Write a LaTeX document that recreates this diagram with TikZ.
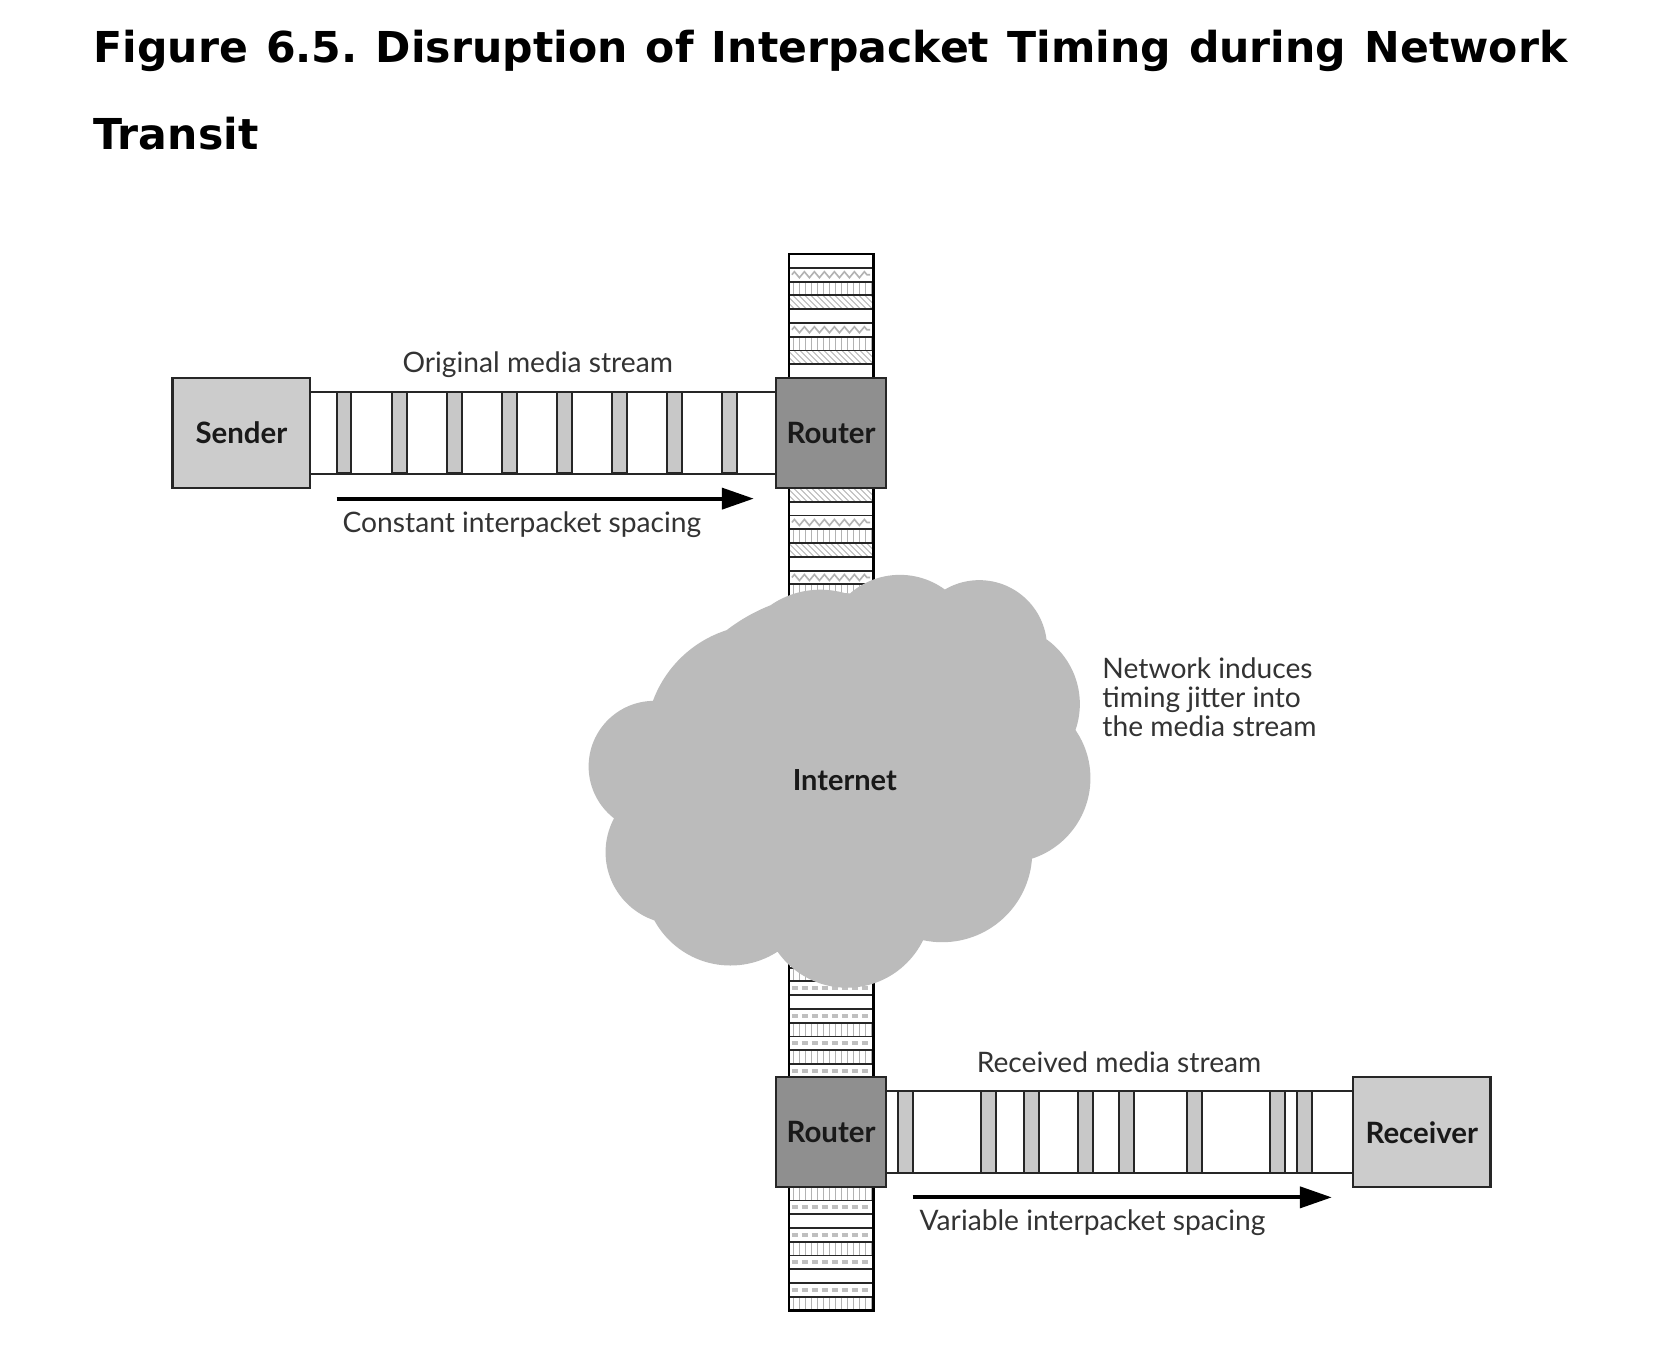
\documentclass[tikz,border=0pt]{standalone}
\usepackage{fontspec}
\newfontfamily\labelfont{Lato}
\newfontfamily\titlefont{DejaVu Sans}
\usetikzlibrary{arrows.meta,patterns,decorations.pathmorphing}
\frenchspacing

\definecolor{endgray}{HTML}{CCCCCC}
\definecolor{routergray}{HTML}{8F8F8F}
\definecolor{cloudgray}{HTML}{BBBBBB}
\definecolor{pktgray}{HTML}{C8C8C8}
\definecolor{txtgray}{HTML}{333333}

\tikzset{
  box/.style={draw=black!85, line width=1.2pt, text=black!90, minimum height=55pt,
    font=\labelfont\bfseries\fontsize{14.7}{16}\selectfont},
  endbox/.style={box, fill=endgray, minimum width=68.8pt},
  routerbox/.style={box, fill=routergray, minimum width=55pt},
  lbl/.style={font=\labelfont\fontsize{14.1}{14.6}\selectfont, text=txtgray, inner sep=0pt},
  streamline/.style={line width=1pt, draw=black!85},
  packet/.style={fill=pktgray, draw=black!85, line width=1pt},
  flow/.style={line width=2pt, -{Triangle[length=16pt,width=10.5pt]}},
  stackcell/.style={draw=black!85, line width=0.9pt},
  cellw/.style={fill=white},
  cellz/.style={fill=white},
  cellh/.style={fill=white},
  cellv/.style={pattern=vertical lines, pattern color=gray!60},
  celld/.style={pattern=north west lines, pattern color=gray!60},
  midw/.style={draw=none},
  midv/.style={draw=none},
  midd/.style={draw=none},
  midz/.style={draw=gray!60, line width=0.8pt, decorate,
    decoration={zigzag, segment length=5pt, amplitude=1.5pt}},
  midh/.style={draw=gray!50, line width=2pt, dash pattern=on 3pt off 2pt},
}

\begin{document}
\begin{tikzpicture}[x=0.52935pt, y=-0.52935pt]
  \useasboundingbox (0,0) rectangle (1568,1270);
  \fill[white] (0,0) rectangle (1568,1270);

  % title
  \node[anchor=base west, inner sep=0pt, font=\titlefont\bfseries\fontsize{21.3}{26}\selectfont]
    (title) at (88,59) {\makebox[736.9pt][s]{Figure 6.5. Disruption of Interpacket Timing during Network}};
  \node[anchor=base west, inner sep=0pt, font=\titlefont\bfseries\fontsize{21.3}{26}\selectfont]
    (title2) at (88,141) {Transit};

  % packet stacks on the vertical path
  \foreach \t [count=\i from 0] in {w,z,v,d,w,z,v,d,w}{
    \draw[stackcell, cell\t] (745,{240+13*\i}) rectangle (825,{253+13*\i});
    \draw[mid\t] (748,{246.5+13*\i}) -- (822,{246.5+13*\i});
  }
  \draw[line width=1.2pt] (745,357) -- (745,240) -- (825,240) -- (825,357);

  \foreach \t [count=\i from 0] in {d,w,z,v,d,w,z,v,d,w}{
    \draw[stackcell, cell\t] (745,{461+13*\i}) rectangle (825,{474+13*\i});
    \draw[mid\t] (748,{467.5+13*\i}) -- (822,{467.5+13*\i});
  }
  \draw[line width=1.2pt] (745,461) -- (745,591) (825,461) -- (825,591);

  \foreach \t [count=\i from 0] in {w,h,v,h,w,h,v,h,v,h}{
    \draw[stackcell, cell\t] (745,{888+13*\i}) rectangle (825,{901+13*\i});
    \draw[mid\t] (748,{894.5+13*\i}) -- (822,{894.5+13*\i});
  }
  \draw[line width=1.2pt] (745,888) -- (745,1018) (825,888) -- (825,1018);

  \foreach \t [count=\i from 0] in {v,h,w,h,v,h,w,h,v}{
    \draw[stackcell, cell\t] (745,{1121+13*\i}) rectangle (825,{1134+13*\i});
    \draw[mid\t] (748,{1127.5+13*\i}) -- (822,{1127.5+13*\i});
  }
  \draw[line width=1.2pt] (745,1121) -- (745,1238) -- (825,1238) -- (825,1121);

  % cloud
  \fill[cloudgray]
    (790,730) circle[radius=170]
    (618,724) circle[radius=62]
    (720,700) circle[radius=110]
    (775,640) circle[radius=83]
    (850,615) circle[radius=72]
    (925,612) circle[radius=64]
    (945,665) circle[radius=75]
    (950,735) circle[radius=80]
    (890,805) circle[radius=85]
    (800,853) circle[radius=80]
    (690,830) circle[radius=82]
    (640,805) circle[radius=68];
  \node[font=\labelfont\bfseries\fontsize{14.5}{16}\selectfont, text=black!90]
    (inet) at (798,737) {Internet};
  \node[lbl, anchor=base west, align=left] (jitter) at (1041,696)
    {Network induces\\timing jitter into\\the media stream};

  % end points and routers
  \node[endbox] (sender) at (228,409) {Sender};
  \node[routerbox] (rtop) at (785,409) {Router};
  \node[routerbox] (rbot) at (785,1069.5) {Router};
  \node[endbox] (receiver) at (1343,1069.5) {Receiver};

  % original stream
  \draw[streamline] ([yshift=20.4pt]sender.east) -- ([yshift=20.4pt]rtop.west);
  \draw[streamline] ([yshift=-20.4pt]sender.east) -- ([yshift=-20.4pt]rtop.west);
  \foreach \x in {318,370,422,474,526,578,630,682}{
    \draw[packet] (\x,370) rectangle ({\x+14},447);
  }
  \node[lbl, anchor=base] (orig) at (508,352) {Original media stream};
  \coordinate (sa) at (318,471);
  \coordinate (sb) at (712,471);
  \draw[flow] (sa) -- (sb);
  \node[lbl, anchor=base] (const) at (493,503) {Constant interpacket spacing};

  % received stream
  \draw[streamline] ([yshift=20.4pt]rbot.east) -- ([yshift=20.4pt]receiver.west);
  \draw[streamline] ([yshift=-20.4pt]rbot.east) -- ([yshift=-20.4pt]receiver.west);
  \foreach \x in {848,927,967,1018,1057,1121,1200,1225}{
    \draw[packet] (\x,1031) rectangle ({\x+14},1108);
  }
  \node[lbl, anchor=base] (recv) at (1057,1013) {Received media stream};
  \coordinate (ra) at (862,1131);
  \coordinate (rb) at (1258,1131);
  \draw[flow] (ra) -- (rb);
  \node[lbl, anchor=base] (var) at (1032,1162) {Variable interpacket spacing};
\end{tikzpicture}
\end{document}
